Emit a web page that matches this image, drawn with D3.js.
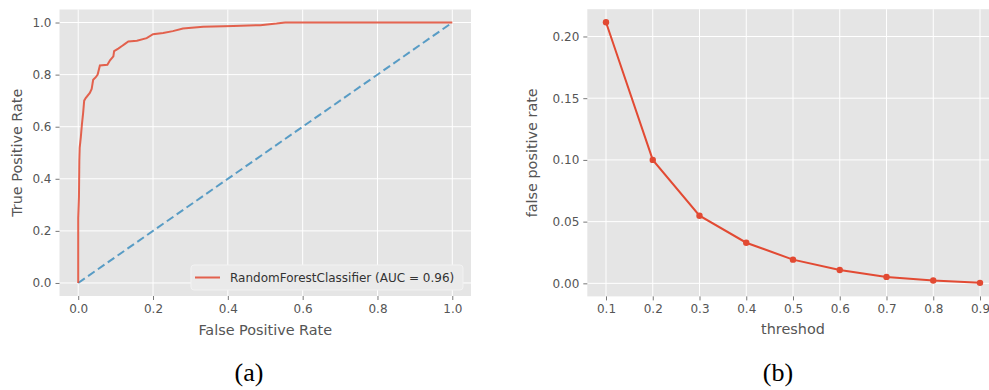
<!DOCTYPE html>
<html><head><meta charset="utf-8">
<script src="https://cdn.jsdelivr.net/npm/d3@7"></script>
<style>body{margin:0;background:#fff}svg{display:block}</style>
</head><body>
<script>
// ---- Data ----
const rocFpr = [0,0,0.002,0.003,0.004,0.007,0.01,0.013,0.016,0.02,0.031,0.036,0.04,0.047,0.052,0.058,0.078,0.085,0.094,0.096,0.107,0.117,0.125,0.134,0.157,0.183,0.2,0.227,0.253,0.28,0.334,0.415,0.487,0.53,0.553,1];
const rocTpr = [0,0.25,0.33,0.47,0.52,0.56,0.61,0.65,0.70,0.71,0.73,0.745,0.78,0.79,0.80,0.835,0.838,0.855,0.87,0.89,0.90,0.91,0.918,0.927,0.93,0.94,0.955,0.96,0.967,0.977,0.984,0.987,0.99,0.996,1.0,1.0];
const chanceX = [0,1];
const chanceY = [0,1];
const rocTicks = [0,0.2,0.4,0.6,0.8,1.0];
const legendLabel = "RandomForestClassifier (AUC = 0.96)";

const thresholds = [0.1,0.2,0.3,0.4,0.5,0.6,0.7,0.8,0.9];
const fprValues = [0.2115,0.100,0.0548,0.0329,0.0192,0.0108,0.0052,0.0023,0.0004];
const fprTicks = [0,0.05,0.10,0.15,0.20];

const W = 989, H = 390;
const BG = "#E5E5E5", RED = "#E24A33", BLUE = "#348ABD", TXT = "#555555";

const svg = d3.select("body").append("svg").attr("width", W).attr("height", H)
  .style("font-family", "'DejaVu Sans', sans-serif");

function panel(o) {
  const g = svg.append("g");
  const [x0, x1] = o.xr, [y0, y1] = o.yr;
  g.append("rect").attr("x", x0).attr("y", y1).attr("width", x1 - x0).attr("height", y0 - y1).attr("fill", BG);
  const x = d3.scaleLinear().domain(o.xd).range([x0, x1]);
  const y = d3.scaleLinear().domain(o.yd).range([y0, y1]);
  // grid
  g.selectAll(".gx").data(o.xt).enter().append("line")
    .attr("x1", d => x(d)).attr("x2", d => x(d)).attr("y1", y1).attr("y2", y0)
    .attr("stroke", "#fff").attr("stroke-width", 1);
  g.selectAll(".gy").data(o.yt).enter().append("line")
    .attr("y1", d => y(d)).attr("y2", d => y(d)).attr("x1", x0).attr("x2", x1)
    .attr("stroke", "#fff").attr("stroke-width", 1);
  // axes
  const ax = g.append("g").attr("transform", `translate(0,${y0})`)
    .call(d3.axisBottom(x).tickValues(o.xt).tickFormat(o.xf).tickSize(4).tickPadding(4));
  const ay = g.append("g").attr("transform", `translate(${x0},0)`)
    .call(d3.axisLeft(y).tickValues(o.yt).tickFormat(o.yf).tickSize(4).tickPadding(4));
  [ax, ay].forEach(a => {
    a.select(".domain").remove();
    a.selectAll(".tick line").attr("stroke", TXT).attr("stroke-width", 0.8);
    a.selectAll(".tick text").attr("fill", TXT).style("font-size", "12px")
      .style("font-family", "'DejaVu Sans', sans-serif");
  });
  g.append("text").attr("x", (x0 + x1) / 2).attr("y", o.xlY)
    .attr("text-anchor", "middle").attr("fill", TXT).style("font-size", "14.4px").text(o.xl);
  g.append("text").attr("transform", `translate(${o.ylX},${(y0 + y1) / 2}) rotate(-90)`)
    .attr("text-anchor", "middle").attr("fill", TXT).style("font-size", "14.4px").text(o.yl);
  return { g, x, y };
}

// ---- Panel (a): ROC ----
const A = panel({
  xr: [59.5, 471], yr: [296, 9.5], xd: [-0.05, 1.05], yd: [-0.05, 1.05],
  xt: rocTicks, yt: rocTicks, xf: d3.format(".1f"), yf: d3.format(".1f"),
  xl: "False Positive Rate", yl: "True Positive Rate", xlY: 335, ylX: 22
});
const rocData = rocFpr.map((f, i) => [f, rocTpr[i]]);
A.g.append("path").datum(chanceX.map((v, i) => [v, chanceY[i]]))
  .attr("d", d3.line().x(d => A.x(d[0])).y(d => A.y(d[1])))
  .attr("fill", "none").attr("stroke", BLUE).attr("stroke-width", 2)
  .attr("stroke-dasharray", "8,4").attr("opacity", 0.8);
A.g.append("path").datum(rocData)
  .attr("d", d3.line().x(d => A.x(d[0])).y(d => A.y(d[1])))
  .attr("fill", "none").attr("stroke", RED).attr("stroke-width", 2).attr("opacity", 0.85);
// legend
const lg = A.g.append("g");
lg.append("rect").attr("x", 191).attr("y", 265).attr("width", 272).attr("height", 25).attr("rx", 3)
  .attr("fill", "#EAEAEA").attr("stroke", "#F2F2F2").attr("stroke-width", 1);
lg.append("line").attr("x1", 195).attr("x2", 220).attr("y1", 277.5).attr("y2", 277.5)
  .attr("stroke", RED).attr("stroke-width", 2).attr("opacity", 0.85);
lg.append("text").attr("x", 230).attr("y", 282).attr("fill", "#333").style("font-size", "12px").text(legendLabel);

// ---- Panel (b): FPR vs threshold ----
const B = panel({
  xr: [587.3, 998.7], yr: [296.4, 9.2], xd: [0.06, 0.94], yd: [-0.01058, 0.2221],
  xt: thresholds, yt: fprTicks, xf: d3.format(".1f"), yf: d3.format(".2f"),
  xl: "threshod", yl: "false positive rate", xlY: 334, ylX: 537
});
const bData = thresholds.map((t, i) => [t, fprValues[i]]);
B.g.append("path").datum(bData)
  .attr("d", d3.line().x(d => B.x(d[0])).y(d => B.y(d[1])))
  .attr("fill", "none").attr("stroke", RED).attr("stroke-width", 2);
B.g.selectAll(".pt").data(bData).enter().append("circle")
  .attr("cx", d => B.x(d[0])).attr("cy", d => B.y(d[1])).attr("r", 3.2).attr("fill", RED);

// captions
svg.append("text").attr("x", 249).attr("y", 381).attr("text-anchor", "middle")
  .style("font-family", "'Liberation Serif', serif").style("font-size", "26px").attr("fill", "#000").text("(a)");
svg.append("text").attr("x", 778).attr("y", 381).attr("text-anchor", "middle")
  .style("font-family", "'Liberation Serif', serif").style("font-size", "26px").attr("fill", "#000").text("(b)");
</script>
</body></html>
